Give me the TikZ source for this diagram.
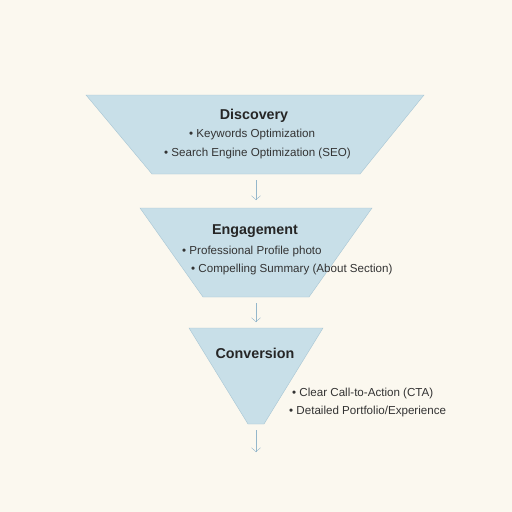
\documentclass[tikz,border=0pt]{standalone}
\usepackage{fontspec}
\setmainfont{Liberation Sans}
\usetikzlibrary{arrows.meta,positioning}
\definecolor{paper}{HTML}{FBF8EF}
\definecolor{funnelfill}{HTML}{C8DFE8}
\definecolor{funneledge}{HTML}{A7C6D4}
\definecolor{pilcolor}{HTML}{94B7CB}
\tikzset{
    %Define style for funnel stages
    stage/.style={
           fill=funnelfill, draw=funneledge, thin},
    %Define style for texts
    titel/.style={
           font=\fontsize{14.3}{16}\selectfont\bfseries,
           text=black!85, inner sep=0pt},
    punkt/.style={
           font=\fontsize{11.6}{13}\selectfont,
           text=black!80, inner sep=0pt, anchor=west},
    % Define arrow style
    pil/.style={
           -{Straight Barb[length=4pt,width=9pt]},
           draw=pilcolor, thin}
}

\begin{document}
\begin{tikzpicture}[x=1pt,y=-1pt]
\useasboundingbox (0,0) rectangle (512,512);
\fill[paper] (0,0) rectangle (512,512);

% funnel stages
\draw[stage] (86,95) -- (424,95) -- (360,174) -- (152,174) -- cycle;
\draw[stage] (140,208) -- (372,208) -- (309,297) -- (203,297) -- cycle;
\draw[stage] (189,328) -- (323,328) -- (264,424) -- (248,424) -- cycle;

\coordinate (discovery) at (256,174);
\coordinate (engagementtop) at (256,208);
\coordinate (engagement) at (256,297);
\coordinate (conversiontop) at (256,328);
\coordinate (conversion) at (256,424);
\coordinate (end) at (256,452);

\node[titel] (discoverytitle) at (254,116) {Discovery};
\node[punkt] (keywords) at (189,134) {• Keywords Optimization};
\node[punkt] (seo) at (164,153) {• Search Engine Optimization (SEO)};

\node[titel] (engagementtitle) at (255,231) {Engagement};
\node[punkt] (photo) at (182,251) {• Professional Profile photo};
\node[punkt] (summary) at (191,269) {• Compelling Summary (About Section)};

\node[titel] (conversiontitle) at (255,353) {Conversion};
\node[punkt] (cta) at (292,393) {• Clear Call-to-Action (CTA)};
\node[punkt] (portfolio) at (289,411) {• Detailed Portfolio/Experience};

\draw[pil, shorten <=6pt, shorten >=8pt] (discovery) -- (engagementtop);
\draw[pil, shorten <=6pt, shorten >=6pt] (engagement) -- (conversiontop);
\draw[pil, shorten <=6pt] (conversion) -- (end);

\end{tikzpicture}
\end{document}
